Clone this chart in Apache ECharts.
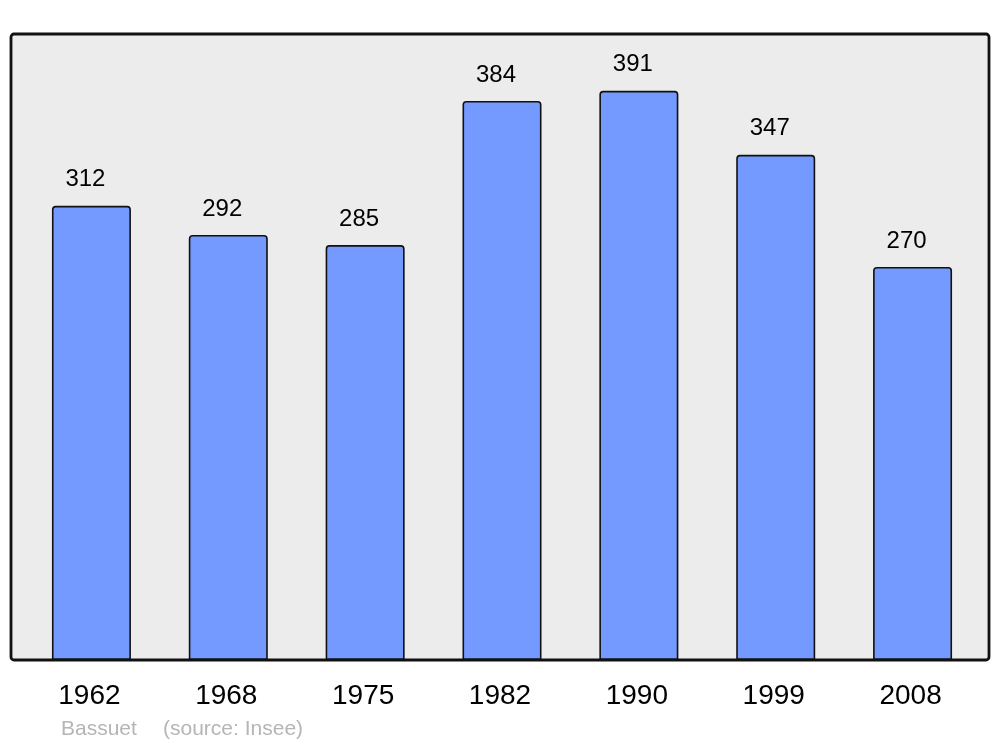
<!DOCTYPE html>
<html>
<head>
<meta charset="utf-8">
<script src="https://cdn.jsdelivr.net/npm/echarts@6/dist/echarts.min.js"></script>
<style>
  html, body { margin: 0; padding: 0; background: #fff; }
  #chart { width: 1000px; height: 747px; }
</style>
</head>
<body>
<div id="chart"></div>
<script>
const years = ['1962', '1968', '1975', '1982', '1990', '1999', '2008']
const population = [312, 292, 285, 384, 391, 347, 270]
const author = 'Bassuet'
const source = '(source: Insee)'

const chart = echarts.init(document.getElementById('chart'), null, { renderer: 'canvas' })
const font = '"Liberation Sans", Arial, sans-serif'

chart.setOption({
  animation: false,
  textStyle: { fontFamily: font },
  grid: {
    left: 23,
    right: 19,
    top: 34,
    bottom: 87,
    containLabel: false
  },
  // cadre gris derrière les barres + bordure par-dessus
  graphic: [
    {
      type: 'rect',
      z: -10,
      shape: { x: 11, y: 34, width: 978, height: 626, r: 3 },
      style: { fill: '#ececec', stroke: null }
    },
    {
      type: 'rect',
      z: 100,
      shape: { x: 11, y: 34, width: 978, height: 626, r: 3 },
      style: { fill: null, stroke: '#111', lineWidth: 2.8 }
    },
    {
      type: 'text',
      left: 61,
      top: 719,
      style: { text: author, fill: '#b5b5b5', font: '21px ' + font }
    },
    {
      type: 'text',
      left: 163,
      top: 719,
      style: { text: source, fill: '#b5b5b5', font: '21px ' + font }
    }
  ],
  xAxis: {
    type: 'category',
    data: years,
    axisLine: { show: false },
    axisTick: { show: false },
    axisLabel: {
      color: '#000',
      fontSize: 28,
      margin: 22,
      padding: [0, 4, 0, 0]
    }
  },
  yAxis: {
    type: 'value',
    min: 0,
    max: 430,
    show: false,
    splitLine: { show: false }
  },
  series: [{
    type: 'bar',
    data: population,
    barWidth: 79,
    itemStyle: {
      color: '#7499ff',
      borderColor: '#111',
      borderWidth: 1.6,
      borderRadius: [3, 3, 0, 0]
    },
    label: {
      show: true,
      position: 'top',
      distance: 14,
      offset: [-6, 0],
      color: '#000',
      fontSize: 24,
      formatter: '{c}'
    }
  }]
})
</script>
</body>
</html>
